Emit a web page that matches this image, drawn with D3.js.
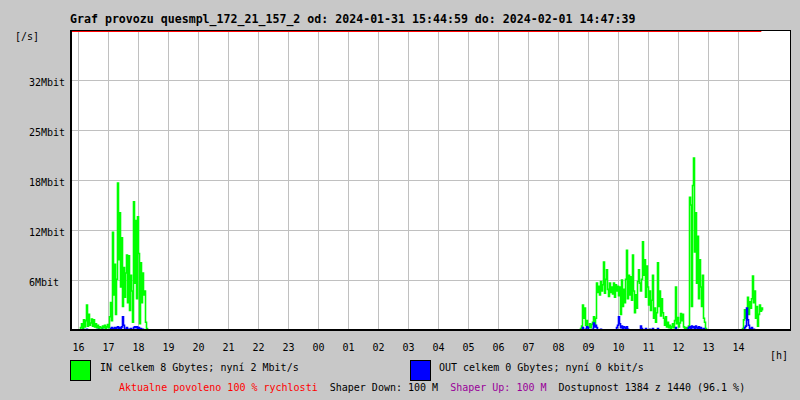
<!DOCTYPE html>
<html><head><meta charset="utf-8">
<script src="https://cdn.jsdelivr.net/npm/d3@7"></script>
<style>
body{margin:0;background:#c8c8c8}
svg{display:block}
text{font-family:"DejaVu Sans Mono",monospace;font-size:10px;fill:#000}
</style></head><body>
<svg id="chart" width="800" height="400"></svg>
<script>
// ---- data ----
const titleText = "Graf provozu quesmpl_172_21_157_2 od: 2024-01-31 15:44:59 do: 2024-02-01 14:47:39";
const periodStart = "2024-01-31 15:44:59";
const periodEnd = "2024-02-01 14:47:39";
const sampleMinutes = 2;
const burstStarts = ["2024-01-31 16:04:59", "2024-02-01 08:44:59", "2024-02-01 14:08:59"];
// IN traffic, Mbit/s
const inBurstA = [0.3,0.8,0.2,1.3,0.4,1.2,3.2,0.5,2.0,0.6,
  0.9,1.4,0.5,1.3,0.4,0.8,0.3,0.6,0.2,0.4,
  0.3,0.2,0.5,0.3,0.6,0.2,0.4,0.7,0.3,1.7,
  3.5,1.2,12.5,4.5,8.4,2.0,6.5,18.8,9.0,15.0,
  5.5,11.8,3.0,8.0,4.2,7.3,9.6,3.5,9.5,2.5,
  7.0,5.0,1.0,16.4,6.0,14.0,4.0,14.5,9.8,0.8,
  8.6,3.5,7.3,4.5,5.0,1.0,0.2];
const inBurstB = [0.2,0.5,3.2,1.5,2.8,0.6,1.2,0.3,0.4,0.8,
  0.3,0.7,1.0,1.7,0.6,1.5,6.0,4.8,5.6,4.5,
  6.2,5.0,5.8,8.7,4.7,6.5,7.7,5.2,4.3,6.0,
  4.8,5.5,4.6,6.0,4.2,5.8,5.0,5.6,4.4,5.5,
  2.0,6.4,3.0,5.2,3.5,6.5,10.2,4.0,7.0,4.5,
  6.8,3.8,9.6,5.0,2.2,4.5,2.8,6.2,7.7,6.0,
  5.0,6.5,11.3,7.0,9.0,4.2,8.2,5.5,3.2,5.0,
  2.5,3.8,7.0,1.5,2.8,1.0,2.2,8.6,3.0,5.0,
  1.8,4.0,2.2,1.5,0.6,1.7,0.4,1.0,0.3,0.6,
  0.2,0.4,0.8,0.3,1.2,5.5,0.8,1.6,0.4,0.9,
  2.1,1.2,2.0,0.4,0.2,0.3,0.1,0.3,0.5,17.0,
  16.0,3.0,18.5,22.0,10.0,15.0,6.0,12.0,4.0,9.0,
  5.5,3.0,7.0,1.5,1.0,0.2];
const inBurstC = [0.2,1.3,2.6,1.5,2.3,4.2,2.0,3.6,2.8,4.0,
  6.9,3.5,5.0,1.5,3.0,0.5,2.0,3.2,2.4,2.8,2.5];
// OUT traffic, Mbit/s
const outBurstA = [0,0,0,0.05,0,0,0.1,0,0,0,
  0,0,0,0,0,0,0,0.05,0,0,
  0,0,0.05,0,0,0,0,0,0,0,
  0.2,0.3,0.2,0,0.3,0,0.3,0.4,0.1,0.3,
  0,0.4,1.7,0.6,0,0.1,0.3,0,0.1,0,
  0.2,0,0,0.3,0.4,0.3,0.4,0.1,0.3,0,
  0.2,0,0.1,0,0,0,0];
const outBurstB = [0,0,0.3,0,0,0.1,0.4,0.3,0,0,
  0,0,0.1,0.9,0.4,0.6,0.3,0,0,0,
  0.1,0,0,0,0,0,0,0,0,0,
  0,0,0,0,0,0,0.3,0.6,1.7,0.8,
  0.3,0.5,0.2,0.4,0.3,0.1,0.4,0.1,0,0,
  0,0,0,0,0,0,0,0,0,0,
  0.5,0.2,0,0,0,0.2,0,0,0,0.1,
  0,0,0.2,0,0,0,0,0.2,0,0,
  0,0,0,0,0,0,0,0,0,0,
  0,0,0,0,0,0.3,0,0,0,0,
  0,0,0,0,0,0,0,0.1,0.3,0.4,
  0.1,0.5,0.3,0.4,0.2,0.5,0.3,0.2,0.4,0.1,
  0.3,0.1,0,0.2,0,0];
const outBurstC = [0,0,0.3,0.5,2.8,1.3,0.6,0.2,0,0.3,
  0,0.1,0,0,0,0,0,0,0,0,0];
const yTickValues = [6.4, 12.8, 19.2, 25.6, 32];
const yTickLabels = ["6Mbit", "12Mbit", "18Mbit", "25Mbit", "32Mbit"];
const hourLabels = ["16","17","18","19","20","21","22","23","00","01","02","03","04","05","06","07","08","09","10","11","12","13","14"];
const yMax = 38.4;
const allowedLimit = 100; // Mbit/s, clipped at top
const legendIn = "IN celkem 8 Gbytes; nyní 2 Mbit/s";
const legendOut = "OUT celkem 0 Gbytes; nyní 0 kbit/s";
const footer = [
  {text: "Aktualne povoleno 100 % rychlosti", color: "#ff0000"},
  {text: "Shaper Down: 100 M", color: "#000000"},
  {text: "Shaper Up: 100 M", color: "#990099"},
  {text: "Dostupnost 1384 z 1440 (96.1 %)", color: "#000000"}
];

// ---- build ----
const parse = d3.timeParse("%Y-%m-%d %H:%M:%S");
const t0 = parse(periodStart), tEnd = parse(periodEnd);
const svg = d3.select("#chart");
const L = 70, R = 790, T = 30, B = 330;
const x = d3.scaleTime().domain([t0, d3.timeMinute.offset(t0, 1440)]).range([L, R]);
const y = d3.scaleLinear().domain([0, yMax]).range([B, T]);

function buildSeries(bursts) {
  const m = new Map();
  bursts.forEach((vals, i) => {
    const s = parse(burstStarts[i]);
    vals.forEach((v, j) => m.set(+d3.timeMinute.offset(s, j * sampleMinutes), v));
  });
  const lastStart = parse(burstStarts[burstStarts.length - 1]);
  const last = d3.timeMinute.offset(lastStart, (bursts[bursts.length-1].length - 1) * sampleMinutes);
  const out = [];
  for (let t = t0; t <= last; t = d3.timeMinute.offset(t, sampleMinutes)) {
    out.push({t, v: m.has(+t) ? m.get(+t) : 0});
  }
  return out;
}
const inSeries = buildSeries([inBurstA, inBurstB, inBurstC]);
const outSeries = buildSeries([outBurstA, outBurstB, outBurstC]);

// plot background
svg.append("rect").attr("x", L).attr("y", T).attr("width", R - L).attr("height", B - T).attr("fill", "#fff");

// grid
const hours = d3.timeHour.range(d3.timeHour.ceil(t0), tEnd).slice(0, hourLabels.length);
svg.append("g").selectAll("line").data(hours).join("line")
  .attr("x1", d => Math.round(x(d)) + 0.5).attr("x2", d => Math.round(x(d)) + 0.5)
  .attr("y1", T).attr("y2", B).attr("stroke", "#c0c0c0").attr("stroke-width", 1);
svg.append("g").selectAll("line").data(yTickValues).join("line")
  .attr("x1", L).attr("x2", R).attr("y1", d => Math.round(y(d)) + 0.5).attr("y2", d => Math.round(y(d)) + 0.5)
  .attr("stroke", "#c0c0c0").attr("stroke-width", 1);

// series
const line = d3.line().x(d => x(d.t) + 0.5).y(d => y(d.v)).curve(d3.curveStepAfter);
svg.append("path").datum(inSeries).attr("d", line).attr("fill", "none").attr("stroke", "#00ff00").attr("stroke-width", 1.6);
svg.append("path").datum(outSeries).attr("d", line).attr("fill", "none").attr("stroke", "#0000ff").attr("stroke-width", 1.6);

// allowed-limit line (clipped at top)
const limY = y(Math.min(allowedLimit, yMax)) + 1.5;
svg.append("line").attr("x1", x(t0)).attr("x2", x(tEnd)).attr("y1", limY).attr("y2", limY)
  .attr("stroke", "#ff0000").attr("stroke-width", 1);

// frame
svg.append("line").attr("x1", L).attr("x2", R + 1).attr("y1", T + 0.5).attr("y2", T + 0.5).attr("stroke", "#000");
svg.append("line").attr("x1", R + 0.5).attr("x2", R + 0.5).attr("y1", T).attr("y2", B).attr("stroke", "#000");
svg.append("line").attr("x1", L + 1).attr("x2", L + 1).attr("y1", T).attr("y2", B + 1).attr("stroke", "#000").attr("stroke-width", 2);
svg.append("line").attr("x1", L).attr("x2", R + 1).attr("y1", B).attr("y2", B).attr("stroke", "#000").attr("stroke-width", 2);

// y labels
svg.append("g").selectAll("text").data(yTickValues).join("text")
  .attr("x", 29).attr("y", d => Math.round(y(d)) + 6).text((d, i) => yTickLabels[i]);
svg.append("text").attr("x", 15).attr("y", 40).text("[/s]");

// x labels
svg.append("g").selectAll("text").data(hours).join("text")
  .attr("x", d => Math.round(x(d)) + 0.5).attr("y", 351).attr("text-anchor", "middle")
  .text((d, i) => hourLabels[i]);
svg.append("text").attr("x", 770).attr("y", 359).text("[h]");

// title
svg.append("text").attr("x", 70).attr("y", 23).style("font-weight", "bold").style("font-size", "11.6px").text(titleText);

// legend
svg.append("rect").attr("x", 70.5).attr("y", 360.5).attr("width", 20).attr("height", 20).attr("fill", "#00ff00").attr("stroke", "#000");
svg.append("text").attr("x", 100).attr("y", 371).text(legendIn);
svg.append("rect").attr("x", 410.5).attr("y", 360.5).attr("width", 20).attr("height", 20).attr("fill", "#0000ff").attr("stroke", "#000");
svg.append("text").attr("x", 439).attr("y", 371).text(legendOut);

// footer
const ft = svg.append("text").attr("x", 119).attr("y", 391).attr("xml:space", "preserve").style("white-space", "pre");
footer.forEach((f, i) => ft.append("tspan").attr("fill", f.color).text((i ? "  " : "") + f.text));
</script>
</body></html>
